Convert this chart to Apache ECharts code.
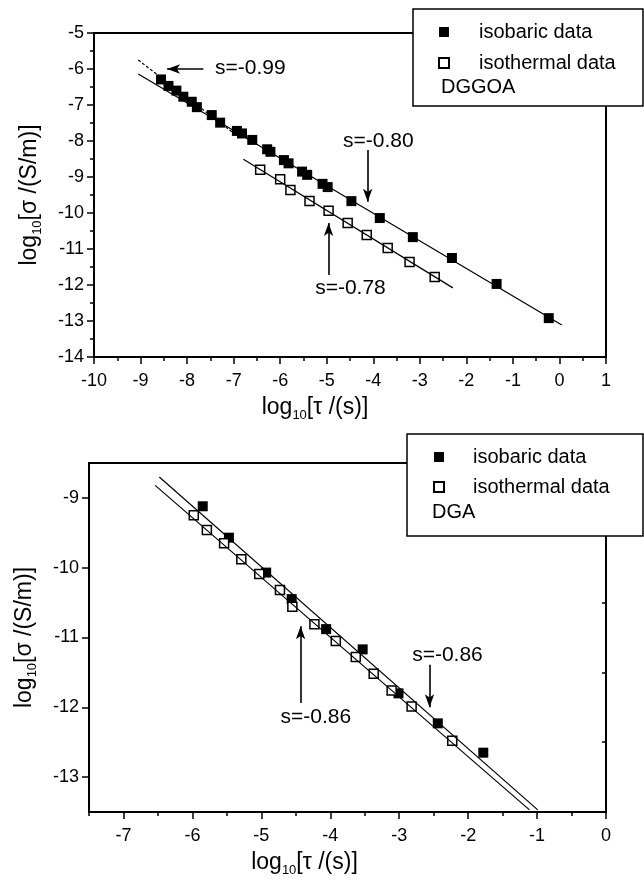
<!DOCTYPE html>
<html><head><meta charset="utf-8">
<script src="https://cdn.jsdelivr.net/npm/echarts@6/dist/echarts.min.js"></script>
<style>html,body{margin:0;padding:0;background:#fff}#c{width:644px;height:881px}</style>
</head><body><div id="c"></div>
<script>
// ---------- DATA (log10 tau, log10 sigma) ----------
const topIsobaric = [
  [-8.56,-6.29],[-8.40,-6.47],[-8.23,-6.60],[-8.08,-6.77],[-7.90,-6.91],[-7.79,-7.06],
  [-7.47,-7.28],[-7.29,-7.49],[-6.93,-7.72],[-6.82,-7.79],[-6.60,-7.97],[-6.28,-8.23],
  [-6.21,-8.30],[-5.92,-8.53],[-5.82,-8.62],[-5.53,-8.85],[-5.42,-8.94],[-5.09,-9.19],
  [-4.98,-9.28],[-4.47,-9.67],[-3.86,-10.14],[-3.15,-10.67],[-2.31,-11.25],[-1.35,-11.97],
  [-0.23,-12.92]
];
const topIsothermal = [
  [-6.43,-8.80],[-6.00,-9.06],[-5.78,-9.36],[-5.37,-9.67],[-4.96,-9.94],[-4.55,-10.28],
  [-4.14,-10.61],[-3.69,-10.97],[-3.22,-11.36],[-2.68,-11.78]
];
const topFitIsobaric = [[-9.05,-6.14],[0.05,-13.11]];
const topFitSteep = [[-9.05,-5.75],[-7.0,-7.78]];
const topFitIsothermal = [[-6.79,-8.51],[-2.29,-12.08]];

const botIsobaric = [
  [-5.85,-9.12],[-5.47,-9.57],[-4.93,-10.07],[-4.56,-10.45],[-4.06,-10.88],
  [-3.53,-11.17],[-3.01,-11.80],[-2.44,-12.23],[-1.78,-12.65]
];
const botIsothermal = [
  [-5.98,-9.25],[-5.79,-9.46],[-5.54,-9.65],[-5.29,-9.88],[-5.03,-10.09],[-4.73,-10.32],
  [-4.55,-10.56],[-4.23,-10.81],[-3.92,-11.05],[-3.63,-11.28],[-3.37,-11.52],[-3.11,-11.76],
  [-2.82,-11.99],[-2.23,-12.48]
];
const botFitA = [[-6.48,-8.70],[-0.99,-13.47]];
const botFitB = [[-6.54,-8.82],[-1.11,-13.47]];

// tick values
const botXTicks = [-7,-6,-5,-4,-3,-2,-1,0];
const botXMinor = [-7.5,-6.5,-5.5,-4.5,-3.5,-2.5,-1.5,-0.5];
const botYTicks = [-13,-12,-11,-10,-9];
const botYMinor = [-13.5,-12.5,-11.5,-10.5,-9.5,-8.5];

// annotations: slope labels and arrows (data coords)
const topNotes = [
  {name:'s=-0.99', coord:[-6.64,-5.97]},
  {name:'s=-0.80', coord:[-3.89,-8.00]},
  {name:'s=-0.78', coord:[-4.49,-12.08]}
];
const topArrows = [
  [[-7.65,-6.0],[-8.43,-6.0]],
  [[-4.12,-8.25],[-4.12,-9.69]],
  [[-4.96,-11.72],[-4.96,-10.28]]
];
const botNotes = [
  {name:'s=-0.86', coord:[-2.30,-11.25]},
  {name:'s=-0.86', coord:[-4.21,-12.14]}
];
const botArrows = [
  [[-2.56,-11.39],[-2.56,-12.0]],
  [[-4.43,-11.94],[-4.43,-10.84]]
];

// ---------- CHART ----------
const FF = '"Liberation Sans", Arial, Helvetica, sans-serif';
const chart = echarts.init(document.getElementById('c'), null, {renderer:'canvas'});

const G0 = {left:94, top:33, width:512, height:324};
const G1 = {left:89, top:463, width:517, height:349};

const lineAx = {show:true, onZero:false, lineStyle:{color:'#000', width:2}};
const tickMaj = {show:true, inside:false, length:7, lineStyle:{color:'#000', width:1.5}};
const tickMin = {show:true, splitNumber:2, length:4, lineStyle:{color:'#000', width:1.5}};
const lab = {color:'#000', fontSize:18, fontFamily:FF};
const rich = {
  a:{fontSize:23, fontFamily:FF, color:'#000', lineHeight:26, verticalAlign:'top'},
  s:{fontSize:13, fontFamily:FF, color:'#000', lineHeight:13, padding:[16,0,0,0], verticalAlign:'bottom'}
};
const xName = '{a|log}{s|10}{a|[τ /(s)]}';
const yName = '{a|log}{s|10}{a|[σ /(S/m)]}';

function scatterS(name, data, xi, yi, hollow){
  return {
    type:'scatter', name, data, xAxisIndex:xi, yAxisIndex:yi, symbol:'rect',
    symbolSize: hollow ? 9 : 10, z:2,
    itemStyle: hollow ? {color:'#fff', borderColor:'#000', borderWidth:1.5, opacity:1} : {color:'#000', opacity:1}
  };
}
function fitS(name, data, xi, yi, dashed, notes, arrows){
  const s = {
    type:'line', name, data, xAxisIndex:xi, yAxisIndex:yi, showSymbol:false, symbol:'none', z:3,
    lineStyle:{color:'#000', width:1.2, type: dashed ? [3,2] : 'solid'}, silent:true
  };
  if (arrows) {
    s.markLine = {
      silent:true, symbol:['none','arrow'], symbolSize:[7,13],
      label:{show:false}, lineStyle:{color:'#000', width:1.6, type:'solid'},
      data: arrows.map(a => [{coord:a[0]},{coord:a[1]}])
    };
  }
  if (notes) {
    s.markPoint = {
      silent:true, symbol:'rect', symbolSize:1, itemStyle:{color:'rgba(0,0,0,0)'},
      label:{show:true, position:'inside', color:'#000', fontSize:21, fontFamily:FF, formatter:p=>p.name},
      data: notes.map(n => ({name:n.name, coord:n.coord}))
    };
  }
  return s;
}

const option = {
  animation:false,
  backgroundColor:'#fff',
  textStyle:{fontFamily:FF},
  grid:[
    Object.assign({show:true, borderColor:'#000', borderWidth:2, backgroundColor:'transparent'}, G0),
    Object.assign({show:true, borderColor:'#000', borderWidth:2, backgroundColor:'transparent'}, G1),
    Object.assign({show:false}, G1)   // overlay grid carrying only the half-unit ticks of the lower panel
  ],
  xAxis:[
    {type:'value', gridIndex:0, position:'bottom', min:-10, max:1, interval:1, axisLine:lineAx, axisTick:tickMaj, minorTick:tickMin,
     splitLine:{show:false}, axisLabel:Object.assign({margin:15}, lab),
     name:xName, nameLocation:'middle', nameGap:39, nameTextStyle:{rich, padding:[0,70,0,0]}},
    {type:'value', gridIndex:1, position:'bottom', min:-7.5, max:0, interval:0.5, axisLine:lineAx,
     axisTick:Object.assign({customValues:botXTicks}, tickMaj),
     splitLine:{show:false}, axisLabel:Object.assign({margin:15, customValues:botXTicks}, lab),
     name:xName, nameLocation:'middle', nameGap:39, nameTextStyle:{rich, padding:[0,86,0,0]}},
    {type:'value', gridIndex:2, position:'bottom', min:-7.5, max:0, interval:0.5, axisLine:{show:false},
     axisTick:{show:true, inside:false, customValues:botXMinor, length:4, lineStyle:{color:'#000', width:1.5}},
     axisLabel:{show:false}, splitLine:{show:false}}
  ],
  yAxis:[
    {type:'value', gridIndex:0, position:'left', min:-14, max:-5, interval:1, axisLine:lineAx, axisTick:tickMaj, minorTick:tickMin,
     splitLine:{show:false}, axisLabel:Object.assign({margin:10}, lab),
     name:yName, nameLocation:'middle', nameGap:50, nameRotate:90, nameTextStyle:{rich}},
    {type:'value', gridIndex:1, position:'left', min:-13.5, max:-8.5, interval:0.5, axisLine:lineAx,
     axisTick:Object.assign({customValues:botYTicks}, tickMaj),
     splitLine:{show:false}, axisLabel:Object.assign({margin:10, customValues:botYTicks}, lab),
     name:yName, nameLocation:'middle', nameGap:50, nameRotate:90, nameTextStyle:{rich}},
    {type:'value', gridIndex:2, position:'left', min:-13.5, max:-8.5, interval:0.5, axisLine:{show:false},
     axisTick:{show:true, inside:false, customValues:botYMinor, length:4, lineStyle:{color:'#000', width:1.5}},
     axisLabel:{show:false}, splitLine:{show:false}}
  ],
  legend:[
    {data:['isobaric data','isothermal data'], orient:'vertical', left:438, top:21, padding:0,
     itemWidth:10, itemHeight:10, itemGap:9, icon:'rect', selectedMode:false, z:60,
     textStyle:{fontSize:20, fontFamily:FF, color:'#000', lineHeight:22, padding:[0,0,0,25]}},
    {data:['isobaric data','isothermal data'], orient:'vertical', left:433, top:446, padding:0,
     itemWidth:10, itemHeight:10, itemGap:8, icon:'rect', selectedMode:false, z:60,
     textStyle:{fontSize:20, fontFamily:FF, color:'#000', lineHeight:22, padding:[0,0,0,24]}}
  ],
  graphic:[
    {type:'rect', z:50, shape:{x:413, y:9, width:230, height:97}, style:{fill:'#fff', stroke:'#000', lineWidth:1.5}},
    {type:'text', z:61, x:441, y:87, style:{text:'DGGOA', fontSize:20, fontFamily:FF, fill:'#000', verticalAlign:'middle'}},
    {type:'rect', z:50, shape:{x:407, y:434, width:236, height:102}, style:{fill:'#fff', stroke:'#000', lineWidth:1.5}},
    {type:'text', z:61, x:432, y:512, style:{text:'DGA', fontSize:20, fontFamily:FF, fill:'#000', verticalAlign:'middle'}}
  ],
  series:[
    scatterS('isobaric data', topIsobaric, 0, 0, false),
    scatterS('isothermal data', topIsothermal, 0, 0, true),
    fitS('fit isobaric DGGOA', topFitIsobaric, 0, 0, false, topNotes, topArrows),
    fitS('fit steep DGGOA', topFitSteep, 0, 0, true),
    fitS('fit isothermal DGGOA', topFitIsothermal, 0, 0, false),
    scatterS('isobaric data', botIsobaric, 1, 1, false),
    scatterS('isothermal data', botIsothermal, 1, 1, true),
    fitS('fit A DGA', botFitA, 1, 1, false, botNotes, botArrows),
    fitS('fit B DGA', botFitB, 1, 1, false)
  ]
};
chart.setOption(option);
</script>
</body></html>
